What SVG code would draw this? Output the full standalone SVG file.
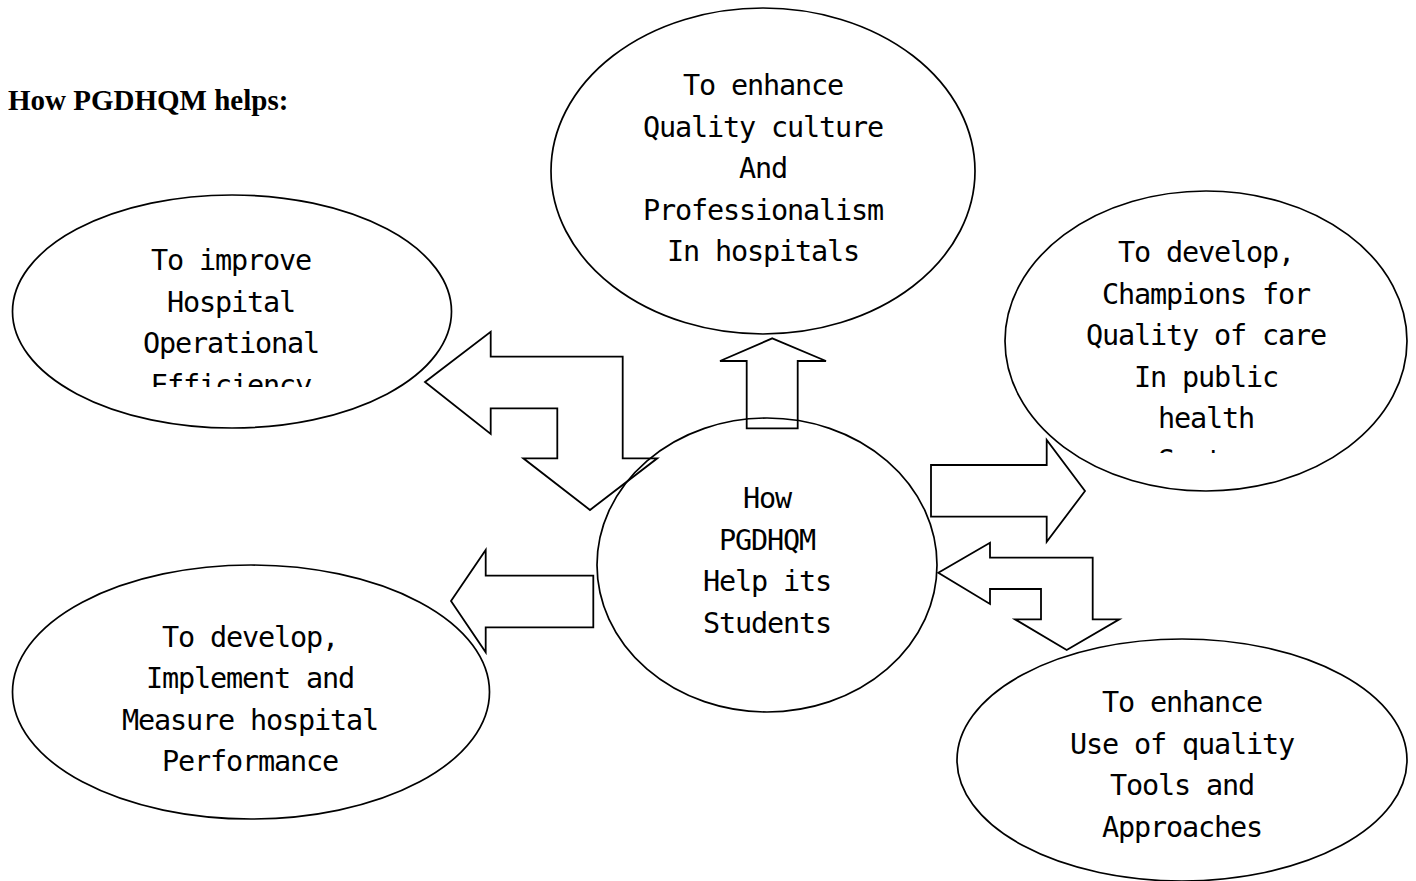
<svg xmlns="http://www.w3.org/2000/svg" width="1416" height="881" viewBox="0 0 1416 881">
<style>
.node ellipse{fill:#fff;stroke:#000;stroke-width:1.7}
.lbl{font-family:"DejaVu Sans Mono","Liberation Mono",monospace;font-size:28.5px;letter-spacing:-1.15px;fill:#000;text-anchor:middle}
.conn path{fill:none;stroke:#000;stroke-width:1.8;stroke-linejoin:miter}
.title{font-family:"Liberation Serif","Times New Roman",serif;font-weight:bold;font-size:29px;fill:#000}
</style>
<defs>
<clipPath id="clipUL"><rect x="0" y="180" width="470" height="207"/></clipPath>
<clipPath id="clipR"><rect x="990" y="180" width="426" height="273"/></clipPath>
</defs>
<rect width="1416" height="881" fill="#fff"/>
<text class="title" x="8" y="110">How PGDHQM helps:</text>

<g id="node-top" class="node">
<ellipse cx="763" cy="171" rx="212" ry="163"/>
<text class="lbl" x="763" y="95">To enhance</text>
<text class="lbl" x="763" y="136.5">Quality culture</text>
<text class="lbl" x="763" y="178">And</text>
<text class="lbl" x="763" y="219.5">Professionalism</text>
<text class="lbl" x="763" y="261">In hospitals</text>
</g>

<g id="node-upper-left" class="node">
<ellipse cx="232" cy="311.5" rx="219.5" ry="116.5"/>
<g clip-path="url(#clipUL)">
<text class="lbl" x="231" y="270">To improve</text>
<text class="lbl" x="231" y="311.5">Hospital</text>
<text class="lbl" x="231" y="353">Operational</text>
<text class="lbl" x="231" y="394.5">Efficiency</text>
</g>
</g>

<g id="node-right" class="node">
<ellipse cx="1206" cy="341" rx="201" ry="150"/>
<g clip-path="url(#clipR)">
<text class="lbl" x="1206" y="262">To develop,</text>
<text class="lbl" x="1206" y="303.5">Champions for</text>
<text class="lbl" x="1206" y="345">Quality of care</text>
<text class="lbl" x="1206" y="386.5">In public</text>
<text class="lbl" x="1206" y="428">health</text>
<text class="lbl" x="1206" y="469.5">Sector</text>
</g>
</g>

<g id="node-center" class="node">
<ellipse cx="767" cy="565" rx="170" ry="147"/>
<text class="lbl" x="767" y="508">How</text>
<text class="lbl" x="767" y="549.5">PGDHQM</text>
<text class="lbl" x="767" y="591">Help its</text>
<text class="lbl" x="767" y="632.5">Students</text>
</g>

<g id="node-lower-left" class="node">
<ellipse cx="251" cy="692" rx="238.5" ry="127"/>
<text class="lbl" x="250" y="646.5">To develop,</text>
<text class="lbl" x="250" y="688">Implement and</text>
<text class="lbl" x="250" y="729.5">Measure hospital</text>
<text class="lbl" x="250" y="771">Performance</text>
</g>

<g id="node-lower-right" class="node">
<ellipse cx="1182" cy="760" rx="225" ry="121"/>
<text class="lbl" x="1182" y="712">To enhance</text>
<text class="lbl" x="1182" y="753.5">Use of quality</text>
<text class="lbl" x="1182" y="795">Tools and</text>
<text class="lbl" x="1182" y="836.5">Approaches</text>
</g>

<g id="connectors" class="conn">
<path d="M425,382 L490.7,331.7 L490.7,356.7 L622.7,356.7 L622.7,458.3 L657.3,458.3 L590,510 L523.3,458.3 L557.3,458.3 L557.3,408.3 L490.7,408.3 L490.7,434 Z"/>
<path d="M451,601 L485.7,550 L485.7,575.7 L593.3,575.7 L593.3,627.3 L485.7,627.3 L485.7,652.3 Z"/>
<path d="M772.3,338.3 L826,361 L797.7,361 L797.7,428.3 L746.7,428.3 L746.7,361 L720,361 Z"/>
<path d="M931,465 L1046.7,465 L1046.7,440 L1085,491 L1046.7,541.7 L1046.7,516.7 L931,516.7 Z"/>
<path d="M938.3,572.7 L990,542.7 L990,557.7 L1092.7,557.7 L1092.7,619.3 L1119.3,619.3 L1066.7,650 L1015,619.3 L1041,619.3 L1041,589 L990,589 L990,604 Z"/>
</g>
</svg>
